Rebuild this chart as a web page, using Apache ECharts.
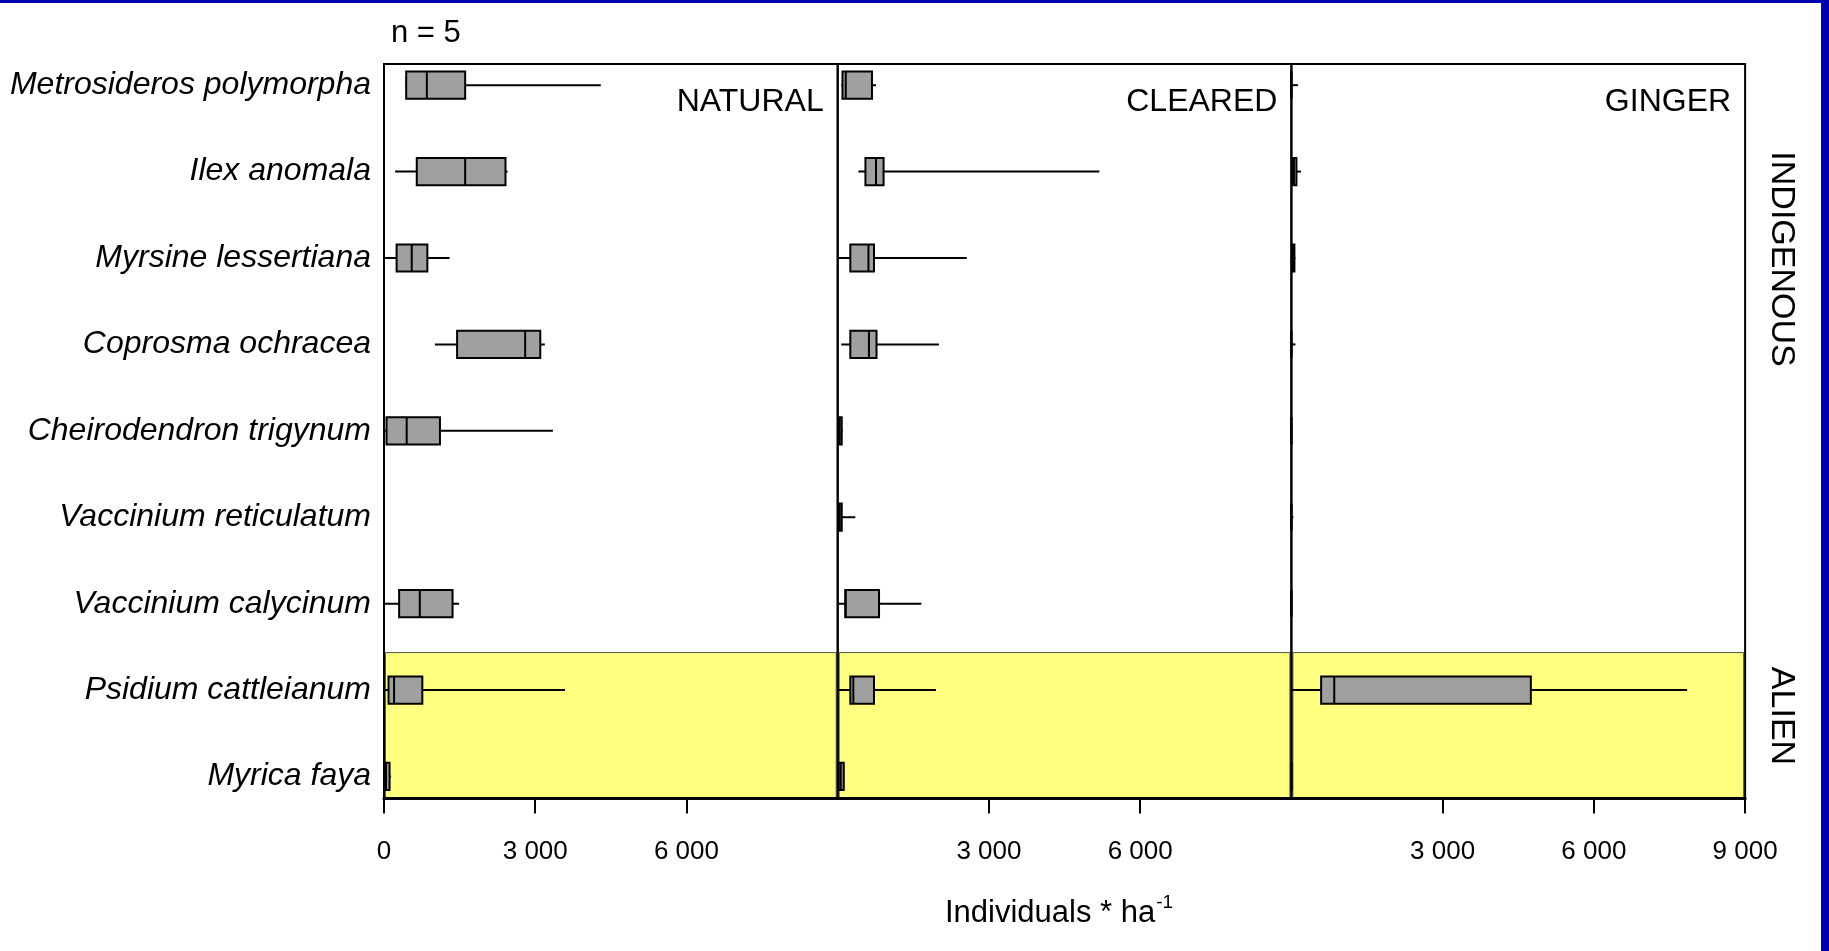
<!DOCTYPE html>
<html>
<head>
<meta charset="utf-8">
<script src="https://cdn.jsdelivr.net/npm/echarts@6/dist/echarts.min.js"></script>
<style>
  html, body { margin: 0; padding: 0; background: #fff; }
  #chart { width: 1829px; height: 951px; }
</style>
</head>
<body>
<div id="chart"></div>
<script>
// ---------- data ----------
const species = [
  'Metrosideros polymorpha', 'Ilex anomala', 'Myrsine lessertiana',
  'Coprosma ochracea', 'Cheirodendron trigynum', 'Vaccinium reticulatum',
  'Vaccinium calycinum', 'Psidium cattleianum', 'Myrica faya'
];
const panelNames = ['NATURAL', 'CLEARED', 'GINGER'];
const groupNames = ['INDIGENOUS', 'ALIEN'];
const sampleLabel = 'n = 5';
const axisTitle = 'Individuals * ha';
const axisTitleSup = '-1';

// [whisker min, Q1, median, Q3, whisker max] per species (individuals / ha)
const naturalBoxes = [
  [420, 440, 850, 1610, 4300],
  [220, 650, 1610, 2410, 2450],
  [20, 250, 550, 860, 1300],
  [1010, 1450, 2800, 3100, 3190],
  [0, 50, 450, 1110, 3350],
  [0, 0, 0, 0, 0],
  [20, 300, 710, 1360, 1490],
  [20, 90, 200, 760, 3590],
  [0, 0, 40, 110, 140]
];
const clearedBoxes = [
  [70, 95, 160, 680, 760],
  [410, 550, 760, 910, 5190],
  [0, 250, 610, 720, 2560],
  [70, 250, 620, 770, 2010],
  [0, 10, 40, 80, 100],
  [0, 10, 40, 80, 350],
  [20, 150, 160, 820, 1660],
  [20, 250, 310, 720, 1950],
  [0, 20, 60, 120, 130]
];
const gingerBoxes = [
  [0, 0, 0, 0, 130],
  [0, 20, 50, 100, 190],
  [0, 10, 40, 60, 80],
  [0, 0, 0, 0, 80],
  [0, 0, 0, 0, 0],
  [0, 0, 0, 0, 40],
  [0, 0, 0, 0, 0],
  [0, 590, 850, 4750, 7850],
  [0, 0, 0, 0, 0]
];
const xTickValues = [
  [0, 3000, 6000],
  [3000, 6000],
  [3000, 6000, 9000]
];
const alienFirstIndex = 7; // Psidium and Myrica are alien species

// ---------- layout / style ----------
const FONT = '"Liberation Sans", Arial, sans-serif';
const X_MAX = 9000;
const Y_MIN = -0.245, Y_MAX = 8.255;
const BOX_H = 0.315;
const BAND_START = alienFirstIndex - 0.434;
const GRID_TOP = 64, GRID_H = 734.5, GRID_W = 453.7;
const gridLefts = [384, 837.7, 1291.4];

const panelData = [naturalBoxes, clearedBoxes, gingerBoxes];

function fmtTick(v) {
  if (v === 0) return '0';
  return (v / 1000) + ' 000';
}

function textWidth(str, size) {
  const ctx = document.createElement('canvas').getContext('2d');
  ctx.font = size + 'px ' + FONT;
  return ctx.measureText(str).width;
}

function renderBox(params, api) {
  const row = api.value(0);
  const lo = api.coord([api.value(1), row]);
  const q1 = api.coord([api.value(2), row]);
  const md = api.coord([api.value(3), row]);
  const q3 = api.coord([api.value(4), row]);
  const hi = api.coord([api.value(5), row]);
  const h = Math.abs(api.size([0, BOX_H])[1]);
  return {
    type: 'group',
    children: [
      { type: 'line', shape: { x1: lo[0], y1: lo[1], x2: hi[0], y2: hi[1] },
        style: { stroke: '#000', lineWidth: 2 } },
      { type: 'rect', shape: { x: q1[0], y: q1[1] - h / 2, width: q3[0] - q1[0], height: h },
        style: { fill: '#a0a0a0', stroke: '#000', lineWidth: 2 } },
      { type: 'line', shape: { x1: md[0], y1: md[1] - h / 2, x2: md[0], y2: md[1] + h / 2 },
        style: { stroke: '#000', lineWidth: 2 } }
    ]
  };
}

function renderBand(params, api) {
  const cs = params.coordSys;
  const y1 = api.coord([0, api.value(0)])[1];
  const y2 = api.coord([0, api.value(1)])[1];
  return {
    type: 'rect',
    shape: { x: cs.x + 1.5, y: y1, width: cs.width - 3, height: y2 - y1 },
    style: { fill: '#FFFF80', stroke: '#555', lineWidth: 1 }
  };
}

const grids = [], xAxes = [], yAxes = [], series = [];
panelData.forEach((boxes, p) => {
  grids.push({
    left: gridLefts[p], top: GRID_TOP, width: GRID_W, height: GRID_H,
    show: true, z: 5, backgroundColor: 'transparent',
    borderColor: '#000', borderWidth: 2
  });
  xAxes.push({
    type: 'value', gridIndex: p, min: 0, max: X_MAX, z: 6,
    axisLine: { show: true, onZero: false, lineStyle: { color: '#000', width: 3 } },
    axisTick: { show: true, length: 15, customValues: xTickValues[p],
      lineStyle: { color: '#000', width: 2 } },
    axisLabel: { show: true, customValues: xTickValues[p], formatter: fmtTick,
      color: '#000', fontSize: 26, fontFamily: FONT, margin: 40 },
    splitLine: { show: false }
  });
  yAxes.push({
    type: 'value', gridIndex: p, min: Y_MIN, max: Y_MAX, inverse: true,
    axisLine: { show: false },
    axisTick: { show: false },
    splitLine: { show: false },
    axisLabel: p === 0 ? {
      show: true,
      customValues: species.map((s, i) => i),
      formatter: v => species[Math.round(v)],
      color: '#000', fontSize: 32, fontStyle: 'italic', fontFamily: FONT, margin: 13
    } : { show: false }
  });
  series.push({
    type: 'custom', xAxisIndex: p, yAxisIndex: p, z: 1, silent: true,
    renderItem: renderBand,
    data: [[BAND_START, Y_MAX]]
  });
  series.push({
    type: 'custom', xAxisIndex: p, yAxisIndex: p, z: 3, silent: true,
    renderItem: renderBox,
    encode: { x: [1, 2, 3, 4, 5], y: 0 },
    data: boxes.map((b, i) => [i].concat(b))
  });
});

const titleX = 945;
const titleW = textWidth(axisTitle, 31);
const graphics = [
  // slide frame (blue)
  { type: 'rect', shape: { x: 0, y: 0, width: 1829, height: 3 }, style: { fill: '#0000B0' }, silent: true },
  { type: 'rect', shape: { x: 1821, y: 0, width: 8, height: 951 }, style: { fill: '#0000B0' }, silent: true },
  { type: 'text', x: 391, y: 33.5, silent: true,
    style: { text: sampleLabel, fill: '#000', fontSize: 31, fontFamily: FONT,
      align: 'left', verticalAlign: 'middle' } },
  { type: 'text', x: titleX, y: 913, silent: true,
    style: { text: axisTitle, fill: '#000', fontSize: 31, fontFamily: FONT,
      align: 'left', verticalAlign: 'middle' } },
  { type: 'text', x: titleX + titleW + 1, y: 903, silent: true,
    style: { text: axisTitleSup, fill: '#000', fontSize: 19, fontFamily: FONT,
      align: 'left', verticalAlign: 'middle' } },
  { type: 'text', x: 1781, y: 259, rotation: -Math.PI / 2, silent: true,
    style: { text: groupNames[0], fill: '#000', fontSize: 34, fontFamily: FONT,
      align: 'center', verticalAlign: 'middle' } },
  { type: 'text', x: 1781, y: 716, rotation: -Math.PI / 2, silent: true,
    style: { text: groupNames[1], fill: '#000', fontSize: 34, fontFamily: FONT,
      align: 'center', verticalAlign: 'middle' } }
];
panelNames.forEach((name, p) => {
  graphics.push({
    type: 'text', x: gridLefts[p] + GRID_W - 14, y: 102, silent: true,
    style: { text: name, fill: '#000', fontSize: 32, fontFamily: FONT,
      align: 'right', verticalAlign: 'middle' }
  });
});

const chart = echarts.init(document.getElementById('chart'), null, { renderer: 'canvas' });
chart.setOption({
  backgroundColor: '#fff',
  animation: false,
  grid: grids,
  xAxis: xAxes,
  yAxis: yAxes,
  series: series,
  graphic: graphics
});
</script>
</body>
</html>
